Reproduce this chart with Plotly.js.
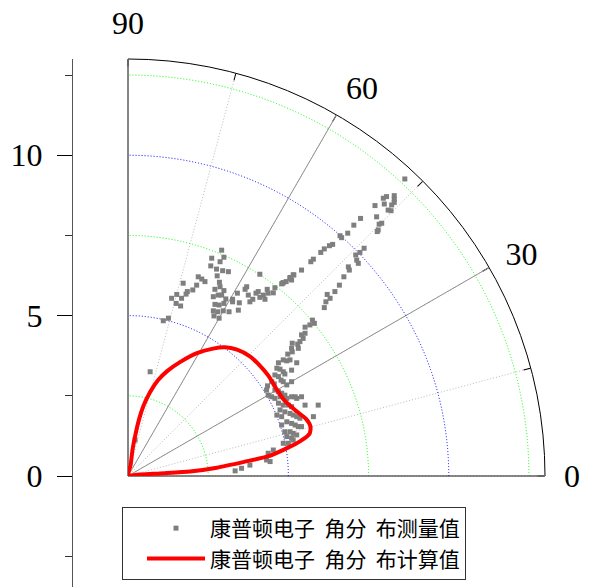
<!DOCTYPE html>
<html><head><meta charset="utf-8">
<script src="https://cdn.plot.ly/plotly-3.0.1.min.js"></script>
<style>html,body{margin:0;padding:0;background:#fff;}#chart{width:590px;height:587px;}</style>
</head><body><div id="chart"></div>
<script>
const measuredX = [2.92,2.61,2.99,2.87,2.58,2.76,2.95,3.13,2.78,2.85,2.87,2.71,2.99,2.81,2.92,2.66,3.05,3.26,2.71,2.84,2.99,2.66,2.80,2.97,3.15,2.68,2.84,3.44,3.26,3.47,3.41,3.65,3.70,3.75,3.80,3.89,3.99,4.06,4.11,4.22,4.27,4.34,4.37,4.53,4.58,4.11,4.82,4.93,5.05,5.17,2.19,2.30,2.40,2.14,2.02,1.85,1.72,1.81,1.52,1.36,1.67,1.50,1.64,1.26,1.10,
8.63,8.06,7.96,8.30,8.30,8.30,8.22,8.11,8.20,7.70,7.99,7.75,7.91,7.83,7.80,7.77,7.25,7.04,6.85,6.61,6.66,6.38,6.28,6.12,6.01,5.78,5.70,5.41,5.15,5.10,5.05,4.84,4.79,7.36,7.23,7.10,7.13,7.18,6.87,6.90,6.73,6.59,6.45,6.21,6.30,6.17,6.12,
5.75,5.81,5.67,5.52,5.52,5.41,5.46,5.36,5.29,5.31,5.12,5.10,5.12,4.98,5.26,5.10,4.84,4.95,4.69,4.64,4.74,4.84,4.89,4.58,4.69,4.77,4.84,4.48,4.56,4.95,5.10,4.35,4.32,4.58,4.69,4.79,4.89,4.48,4.58,5.21,5.05,
4.74,4.95,5.10,5.26,5.41,4.69,4.84,5.00,5.10,5.52,5.93,4.74,4.89,5.05,5.15,5.26,5.36,4.79,4.95,5.10,5.21,5.31,5.41,4.79,4.89,5.05,5.15,5.26,4.95,5.10,4.84,5.00,4.53,4.37,5.78,4.64,4.43,5.15,
3.34,3.54,3.80,4.32,0.22,0.69,4.37];
const measuredY = [7.04,6.79,6.82,6.68,6.55,6.45,6.40,6.37,6.24,6.04,5.90,5.82,5.78,5.64,5.64,5.59,5.52,5.51,5.35,5.33,5.38,5.15,5.12,5.15,5.12,4.99,4.92,5.17,5.43,5.40,5.70,5.82,5.90,5.64,5.43,5.51,5.70,5.75,5.57,5.64,5.51,5.82,5.70,5.71,5.87,6.29,6.01,6.06,6.16,6.27,6.21,6.14,6.06,5.95,5.80,5.75,6.01,5.67,5.66,5.54,5.54,5.38,5.30,4.92,4.84,
9.26,8.71,8.66,8.74,8.63,8.53,8.45,8.29,8.27,8.43,8.48,8.08,7.88,7.85,7.67,7.62,8.03,7.82,7.57,7.49,7.43,7.22,7.18,7.08,6.97,6.76,6.68,6.42,6.27,6.11,6.19,6.03,5.99,7.10,6.97,6.89,6.73,6.63,6.52,6.42,6.21,5.95,5.75,5.66,5.54,5.43,5.25,
4.86,4.76,4.71,4.64,4.45,4.40,4.29,4.19,4.11,3.98,4.14,3.98,3.87,3.80,3.53,3.30,3.62,3.59,3.53,3.36,3.33,3.25,3.18,3.15,3.10,2.99,2.94,2.94,2.87,2.84,2.94,2.81,2.68,2.68,2.63,2.58,2.52,2.47,2.42,2.47,3.62,
2.47,2.42,2.47,2.42,2.47,2.27,2.21,2.21,2.16,2.21,2.21,2.06,2.00,1.95,1.90,1.85,1.80,1.85,1.69,1.64,1.59,1.54,1.54,1.59,1.38,1.38,1.33,1.28,1.23,1.18,1.02,1.02,0.81,0.71,1.85,1.90,0.45,1.12,
0.16,0.24,0.34,0.50,1.12,3.25,2.52];

const calcX = [0,0.08,0.14,0.23,0.34,0.48,0.69,0.94,1.22,1.62,2.15,2.65,3.02,3.40,3.80,4.11,4.38,4.63,4.89,5.24,5.55,5.69,5.66,5.36,4.96,4.36,3.62,2.77,1.93,1.00,0.22,0];
const calcY = [0,0.34,0.81,1.28,1.75,2.18,2.62,2.99,3.27,3.55,3.83,3.97,4.01,3.94,3.73,3.44,3.12,2.71,2.34,2.03,1.78,1.54,1.32,1.08,0.87,0.61,0.44,0.26,0.14,0.08,0.03,0];

const seriesNames = ['康普顿电子  角分  布测量值', '康普顿电子  角分  布计算值'];
const angleLabelVals = [0, 30, 60, 90];
const angleLabelText = ['0', '30', '60', '90'];
const angleMinorVals = [0, 15, 30, 45, 60, 75, 90];
const radialGridGreen = [2.5, 7.5, 12.5];
const radialGridBlue = [5, 10];
const radialRange = [0, 13];
const leftTickVals = [0, 5, 10];
const leftTickText = ['0', '5', '10'];
const leftRange = [-3.46, 13];

function toR(xs, ys) { return xs.map(function (x, i) { return Math.hypot(x, ys[i]); }); }
function toTheta(xs, ys) { return xs.map(function (x, i) { return Math.atan2(ys[i], x) * 180 / Math.PI; }); }

const serif = 'Liberation Serif, Times New Roman, serif';
const cjk = 'Noto Sans CJK SC, Noto Sans, sans-serif';

const data = [
  { type: 'scatter', x: [null], y: [null], xaxis: 'x', yaxis: 'y', showlegend: false, hoverinfo: 'skip', mode: 'markers' },
  { type: 'scatterpolar', subplot: 'polar', r: [null], theta: [null], mode: 'markers', showlegend: false, hoverinfo: 'skip' },
  { type: 'scatterpolar', subplot: 'polar2', mode: 'markers', name: seriesNames[0],
    r: toR(measuredX, measuredY), theta: toTheta(measuredX, measuredY),
    marker: { symbol: 'square', size: 5, color: '#7f7f7f' } },
  { type: 'scatterpolar', subplot: 'polar2', mode: 'lines', name: seriesNames[1],
    r: toR(calcX, calcY), theta: toTheta(calcX, calcY),
    line: { color: '#ff0000', width: 4, shape: 'spline', smoothing: 0.6 } }
];

const dom = { x: [128 / 590, 545 / 590], y: [111 / 587, 528 / 587] };

const layout = {
  width: 590, height: 587,
  margin: { l: 0, r: 0, t: 0, b: 0 },
  paper_bgcolor: '#ffffff', plot_bgcolor: 'rgba(0,0,0,0)',
  showlegend: true,
  legend: {
    x: 122 / 590, xanchor: 'left', y: 1 - 507 / 587, yanchor: 'top',
    bgcolor: '#ffffff', bordercolor: '#333333', borderwidth: 1,
    font: { family: cjk, size: 21, color: '#000000' },
    itemwidth: 58, indentation: 19, tracegroupgap: 0
  },
  xaxis: { visible: false, domain: [0.12, 0.13], range: [0, 1] },
  yaxis: {
    anchor: 'free', position: 72 / 590, side: 'left',
    domain: [0, 528 / 587], range: leftRange,
    tickmode: 'array', tickvals: leftTickVals, ticktext: leftTickText,
    ticks: 'outside', ticklen: 15, tickwidth: 1, tickcolor: '#000000',
    minor: { dtick: 2.5, ticks: 'outside', ticklen: 7, tickcolor: '#333333', showgrid: false },
    showline: true, linecolor: '#555555', linewidth: 1,
    showgrid: false, zeroline: false,
    tickfont: { family: serif, size: 32, color: '#000000' },
    ticklabelstandoff: 8
  },
  polar: {
    domain: dom, sector: [0, 90], bgcolor: '#ffffff',
    radialaxis: {
      range: radialRange, tickmode: 'array', tickvals: radialGridGreen,
      showticklabels: false, ticks: '', showline: false,
      gridcolor: '#00ff00', griddash: '1px,2px', gridwidth: 1
    },
    angularaxis: {
      direction: 'counterclockwise', rotation: 0,
      tickmode: 'array', tickvals: angleMinorVals, showticklabels: false,
      ticks: 'inside', ticklen: 7, tickcolor: '#000000', tickwidth: 1,
      showline: true, linecolor: '#000000', linewidth: 1,
      gridcolor: '#bbbbbb', griddash: '1px,2px', gridwidth: 1
    }
  },
  polar2: {
    domain: dom, sector: [0, 90], bgcolor: 'rgba(0,0,0,0)',
    radialaxis: {
      range: radialRange, tickmode: 'array', tickvals: radialGridBlue,
      showticklabels: false, ticks: '', showline: false,
      gridcolor: '#0000ff', griddash: '1px,2px', gridwidth: 1
    },
    angularaxis: {
      direction: 'counterclockwise', rotation: 0,
      tickmode: 'array', tickvals: angleLabelVals, ticktext: angleLabelText,
      ticks: 'outside', ticklen: 12, tickcolor: 'rgba(0,0,0,0)',
      tickfont: { family: serif, size: 32, color: '#000000' },
      showline: false,
      gridcolor: '#909090', griddash: 'solid', gridwidth: 1
    }
  }
};

Plotly.newPlot('chart', data, layout, { displayModeBar: false, staticPlot: true });
</script>
</body></html>
